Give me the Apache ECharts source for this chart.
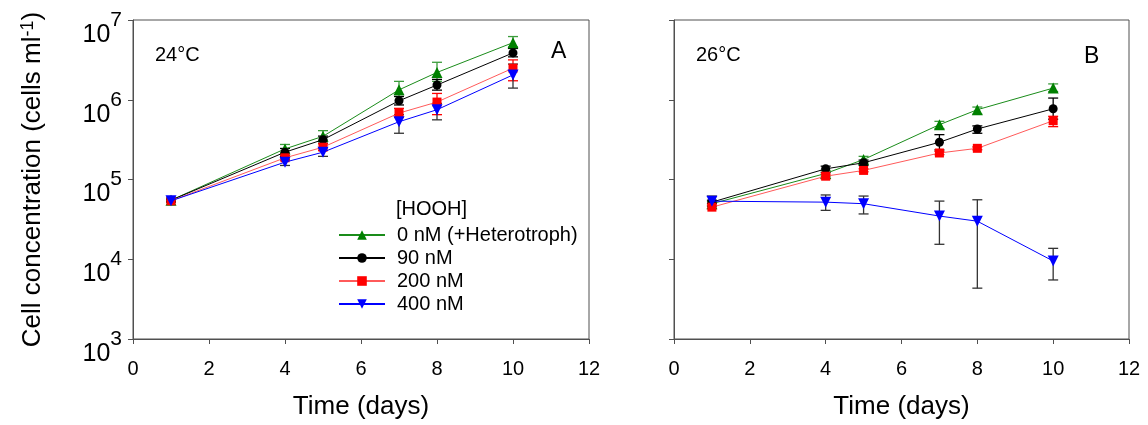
<!DOCTYPE html>
<html><head><meta charset="utf-8">
<script src="https://cdn.jsdelivr.net/npm/echarts@6/dist/echarts.min.js"></script>
<style>html,body{margin:0;padding:0;background:#fff}#c{width:1148px;height:425px}</style>
</head><body><div id="c"></div>
<script>
// ---- data ----
const days = [1, 4, 5, 7, 8, 10];
const seriesNames = ['0 nM (+Heterotroph)', '90 nM', '200 nM', '400 nM'];
const xTicks = [0, 2, 4, 6, 8, 10, 12];
const yTickExponents = [3, 4, 5, 6, 7];

// Panel A, 24°C
const a0nM   = [55000, 242000, 348000, 1330000, 2200000, 5200000];
const a0nMLo = [52000, 212000, 300000, 1100000, 1700000, 4600000];
const a0nMHi = [59000, 275000, 410000, 1700000, 2950000, 6200000];
const a90nM   = [55000, 220000, 316000, 970000, 1530000, 3870000];
const a90nMLo = [53000, 195000, 285000, 860000, 1320000, 3450000];
const a90nMHi = [57000, 245000, 350000, 1100000, 1800000, 4400000];
const a200nM   = [54000, 187000, 254000, 680000, 935000, 2490000];
const a200nMLo = [52000, 175000, 232000, 600000, 650000, 1730000];
const a200nMHi = [56000, 200000, 280000, 780000, 1200000, 3160000];
const a400nM   = [54000, 165000, 220000, 530000, 750000, 2050000];
const a400nMLo = [52000, 150000, 195000, 380000, 560000, 1400000];
const a400nMHi = [56000, 180000, 250000, 650000, 900000, 2800000];

// Panel B, 26°C
const b0nM   = [49700, 119000, 178000, 487000, 750000, 1400000];
const b0nMLo = [47000, 110000, 162000, 434000, 660000, 1270000];
const b0nMHi = [53000, 130000, 195000, 536000, 810000, 1580000];
const b90nM   = [52000, 136000, 162000, 293000, 430000, 770000];
const b90nMLo = [50000, 123000, 150000, 235000, 380000, 570000];
const b90nMHi = [55000, 147000, 175000, 365000, 470000, 1050000];
const b200nM   = [45000, 110000, 130000, 215000, 246000, 546000];
const b200nMLo = [43000, 102000, 125000, 205000, 236000, 460000];
const b200nMHi = [48000, 117000, 136000, 225000, 256000, 620000];
const b400nM   = [53500, 52000, 49700, 34800, 30000, 9500];
const b400nMLo = [46000, 41000, 37000, 15400, 4340, 5500];
const b400nMHi = [62000, 64000, 62000, 53600, 55700, 13700];

// ---- styles ----
const styles = [
  {line: '#1a8c1a', mark: '#008000', err: '#3c9c3c', symbol: 'triangle', rot: 0, size: 11},
  {line: '#000000', mark: '#000000', err: '#000000', symbol: 'circle', rot: 0, size: 9},
  {line: '#ff5a5a', mark: '#ff0000', err: '#ff0000', symbol: 'rect', rot: 0, size: 9},
  {line: '#0000ff', mark: '#0000ff', err: '#333333', symbol: 'triangle', rot: 180, size: 11}
];

const panelA = [[a0nM, a0nMLo, a0nMHi], [a90nM, a90nMLo, a90nMHi], [a200nM, a200nMLo, a200nMHi], [a400nM, a400nMLo, a400nMHi]];
const panelB = [[b0nM, b0nMLo, b0nMHi], [b90nM, b90nMLo, b90nMHi], [b200nM, b200nMLo, b200nMHi], [b400nM, b400nMLo, b400nMHi]];

const FONT = 'Liberation Sans, Arial, sans-serif';
const axisCol = '#505050';

function xAxis(gi) {
  return {
    type: 'value', gridIndex: gi, min: 0, max: 12, interval: 2,
    axisLine: {show: true, onZero: false, lineStyle: {color: axisCol, width: 1}},
    axisTick: {show: true, inside: false, length: 5, lineStyle: {color: axisCol}},
    splitLine: {show: false},
    axisLabel: {fontSize: 20, color: '#000', fontFamily: FONT, margin: 20},
    name: 'Time (days)', nameLocation: 'middle', nameGap: 55,
    nameTextStyle: {fontSize: 26, color: '#000', fontFamily: FONT}
  };
}
function yAxis(gi, labels) {
  const ax = {
    type: 'log', logBase: 10, gridIndex: gi, min: 1000, max: 10000000,
    axisLine: {show: true, lineStyle: {color: axisCol, width: 1}},
    axisTick: {show: true, inside: false, length: 5, lineStyle: {color: axisCol}},
    minorTick: {show: false},
    splitLine: {show: false},
    axisLabel: {
      show: labels, margin: 11, fontFamily: FONT, color: '#000',
      formatter: function (v) {
        const e = Math.round(Math.log10(v));
        return '{sp| }{b|10}{s|' + e + '}';
      },
      rich: {
        sp: {fontSize: 1, lineHeight: 55, width: 0, verticalAlign: 'bottom'},
        b: {fontSize: 25, lineHeight: 25, verticalAlign: 'bottom', fontFamily: FONT, color: '#000'},
        s: {fontSize: 21, lineHeight: 21, verticalAlign: 'bottom', padding: [0, 0, 17, 0], fontFamily: FONT, color: '#000'}
      }
    }
  };
  if (labels) {
    ax.name = 'Cell concentration (cells ml{s|-1})';
    ax.nameLocation = 'middle';
    ax.nameGap = 86;
    ax.nameTextStyle = {
      fontSize: 26, color: '#000', fontFamily: FONT,
      rich: {s: {fontSize: 18, verticalAlign: 'top', padding: [0, 0, 10, 0], fontFamily: FONT, color: '#000'}}
    };
  }
  return ax;
}

const series = [];
function addPanel(panel, gi) {
  panel.forEach(function (trip, i) {
    const st = styles[i];
    const errData = days.map(function (d, k) { return [d, trip[1][k], trip[2][k]]; });
    series.push({
      type: 'custom', xAxisIndex: gi, yAxisIndex: gi, z: 1, silent: true,
      data: errData, encode: {x: 0, y: [1, 2]},
      renderItem: function (params, api) {
        const x = api.value(0);
        const lo = api.coord([x, api.value(1)]);
        const hi = api.coord([x, api.value(2)]);
        const hw = 5;
        const ls = {stroke: st.err, lineWidth: 1.3};
        return {type: 'group', children: [
          {type: 'line', shape: {x1: lo[0], y1: lo[1], x2: hi[0], y2: hi[1]}, style: ls},
          {type: 'line', shape: {x1: lo[0] - hw, y1: lo[1], x2: lo[0] + hw, y2: lo[1]}, style: ls},
          {type: 'line', shape: {x1: hi[0] - hw, y1: hi[1], x2: hi[0] + hw, y2: hi[1]}, style: ls}
        ]};
      }
    });
    series.push({
      name: seriesNames[i], type: 'line', xAxisIndex: gi, yAxisIndex: gi, z: 3 + i,
      data: days.map(function (d, k) { return [d, trip[0][k]]; }),
      symbol: st.symbol, symbolRotate: st.rot, symbolSize: st.size,
      showAllSymbol: true,
      lineStyle: {color: st.line, width: 1},
      itemStyle: {color: st.mark, borderWidth: 0},
      emphasis: {disabled: true},
      animation: false
    });
  });
}
addPanel(panelA, 0);
addPanel(panelB, 1);

const option = {
  animation: false,
  backgroundColor: '#fff',
  grid: [
    {left: 133, top: 20, width: 456, height: 320, show: true, borderColor: axisCol, borderWidth: 1, backgroundColor: 'transparent'},
    {left: 674, top: 20, width: 455, height: 320, show: true, borderColor: axisCol, borderWidth: 1, backgroundColor: 'transparent'}
  ],
  xAxis: [xAxis(0), xAxis(1)],
  yAxis: [yAxis(0, true), yAxis(1, false)],
  legend: {
    data: seriesNames, orient: 'vertical', left: 338, top: 225,
    itemWidth: 46, itemHeight: 12, itemGap: 3, padding: 0,
    selectedMode: false,
    textStyle: {fontSize: 20, color: '#000', fontFamily: FONT, padding: [0, 0, 0, 7]}
  },
  graphic: [
    {type: 'text', left: 396, top: 199, style: {text: '[HOOH]', fontSize: 20, fill: '#000', fontFamily: FONT}},
    {type: 'text', left: 155, top: 45, style: {text: '24°C', fontSize: 20, fill: '#000', fontFamily: FONT}},
    {type: 'text', left: 696, top: 45, style: {text: '26°C', fontSize: 20, fill: '#000', fontFamily: FONT}},
    {type: 'text', left: 551, top: 40, style: {text: 'A', fontSize: 23, fill: '#000', fontFamily: FONT}},
    {type: 'text', left: 1084, top: 45, style: {text: 'B', fontSize: 23, fill: '#000', fontFamily: FONT}}
  ],
  series: series
};
const chart = echarts.init(document.getElementById('c'), null, {renderer: 'canvas'});
chart.setOption(option);
</script></body></html>
